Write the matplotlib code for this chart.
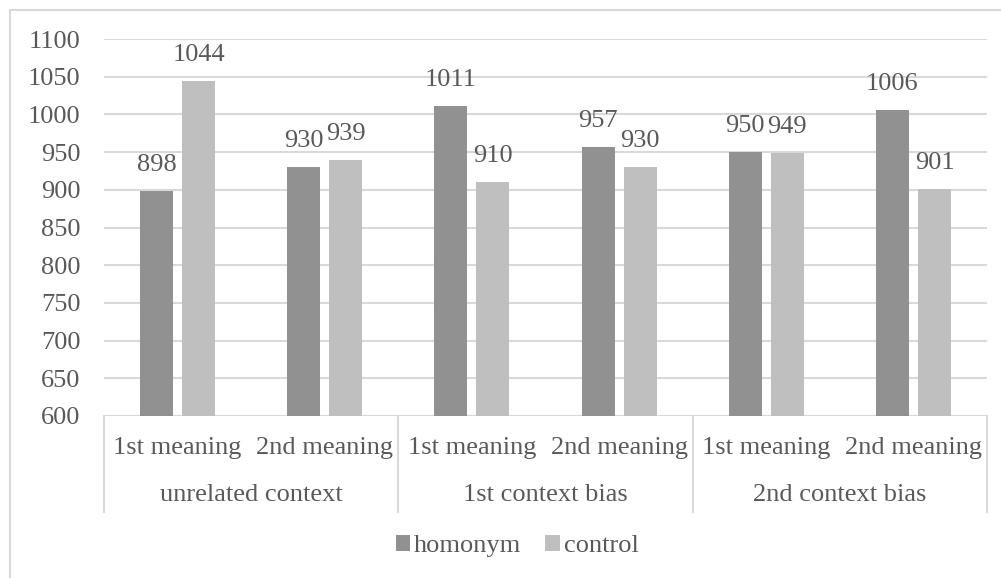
import matplotlib.pyplot as plt
from matplotlib.lines import Line2D
import numpy as np

plt.rcParams['font.family'] = ['Liberation Serif', 'DejaVu Serif']

groups = ['unrelated context', '1st context bias', '2nd context bias']
meanings = ['1st meaning', '2nd meaning']
homonym = [898, 930, 1011, 957, 950, 1006]
control = [1044, 939, 910, 930, 949, 901]

c_hom = '#919191'
c_ctl = '#bfbfbf'
c_grid = '#d9d9d9'
c_txt = '#595959'
fs = 19

W, H = 1001, 578
fig = plt.figure(figsize=(W / 100, H / 100), dpi=100)

# outer chart border (only top and left fall inside the picture)
fig.add_artist(Line2D([10 / W, 10 / W], [0, 1 - 10 / H], color=c_grid, lw=1.5))
fig.add_artist(Line2D([10 / W, 1], [1 - 10 / H, 1 - 10 / H], color=c_grid, lw=1.5))

left, right, top, bottom = 104, 987, 39, 416
ax = fig.add_axes([left / W, 1 - bottom / H, (right - left) / W, (bottom - top) / H])

n = len(homonym)
x = np.arange(n)
bw = 0.224
off = 0.143
ax.bar(x - off, homonym, bw, bottom=0, color=c_hom, label='homonym', zorder=3)
ax.bar(x + off, control, bw, bottom=0, color=c_ctl, label='control', zorder=3)

ax.set_xlim(-0.5, n - 0.5)
ax.set_ylim(600, 1100)
ax.set_yticks(np.arange(600, 1101, 50))
ax.set_yticklabels([str(v) for v in range(600, 1101, 50)], fontsize=fs, color=c_txt,
                   family='Liberation Serif')
ax.tick_params(axis='y', length=0, pad=17)
ax.set_xticks([])
for s in ax.spines.values():
    s.set_visible(False)
ax.yaxis.grid(True, color=c_grid, lw=1.5, zorder=0)
ax.axhline(600, color=c_grid, lw=1.5, zorder=1)

for xi, v in zip(x - off, homonym):
    ax.annotate(str(v), (xi, v), xytext=(0, 11), textcoords='offset points',
                ha='center', va='bottom', fontsize=fs, color=c_txt, family='Liberation Serif')
for xi, v in zip(x + off, control):
    ax.annotate(str(v), (xi, v), xytext=(0, 11), textcoords='offset points',
                ha='center', va='bottom', fontsize=fs, color=c_txt, family='Liberation Serif')

# two-level category axis
trans = ax.get_xaxis_transform()
y_sep = -(512 - bottom) / (bottom - top)
for g in range(len(groups) + 1):
    xs = g * 2 - 0.5
    ax.add_line(Line2D([xs, xs], [0, y_sep], transform=trans, color=c_grid,
                       lw=1.5, clip_on=False))
y_sub = -(448 - bottom) / (bottom - top)
y_grp = -(495 - bottom) / (bottom - top)
for i in range(n):
    ax.text(i, y_sub, meanings[i % 2], transform=trans, ha='center', va='center',
            fontsize=fs, color=c_txt, family='Liberation Serif')
for g, name in enumerate(groups):
    ax.text(g * 2 + 0.5, y_grp, name, transform=trans, ha='center', va='center',
            fontsize=fs, color=c_txt, family='Liberation Serif')

leg = fig.legend(loc='center', bbox_to_anchor=(517 / W, 1 - 546 / H), ncol=2,
                 frameon=False, prop={'family': 'Liberation Serif', 'size': fs},
                 handlelength=0.55, handleheight=0.55,
                 handletextpad=0.15, columnspacing=0.9, labelcolor=c_txt,
                 borderpad=0, borderaxespad=0)

fig.savefig('out.png', dpi=100)
